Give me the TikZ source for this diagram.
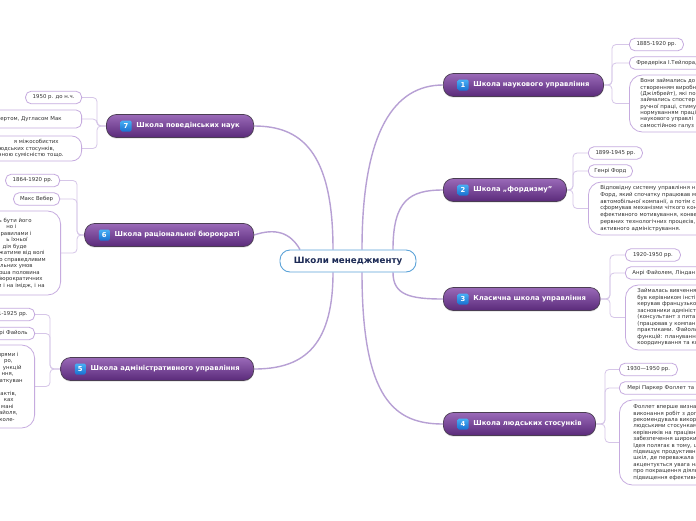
\documentclass[tikz,border=0pt]{standalone}
\usepackage{fontspec}
\setmainfont{DejaVu Sans}
\usetikzlibrary{shadows}
\definecolor{maincon}{HTML}{B7A0D4}
\definecolor{subcon}{HTML}{D6C6E8}
\definecolor{boxline}{HTML}{C6ABDF}
\definecolor{bartop}{HTML}{9A6AB8}
\definecolor{barbot}{HTML}{5A2A7A}
\definecolor{barline}{HTML}{4A3D52}
\definecolor{badgetop}{HTML}{48B0F5}
\definecolor{badgebot}{HTML}{1A70D0}
\definecolor{cenline}{HTML}{5CA3D8}
\definecolor{centext}{HTML}{1C2A55}
\definecolor{txt}{HTML}{333333}
\newcommand\padr[1]{\makebox[#1pt]{}}
\pgfdeclarelayer{bg}
\pgfsetlayers{bg,main}
\begin{document}
\begin{tikzpicture}[x=1pt,y=-1pt,
  central/.style={draw=cenline, line width=0.9pt, fill=white, rounded corners=10pt,
    minimum width=136pt, minimum height=22pt, inner sep=0pt, text=centext,
    font=\fontsize{8.7}{10}\selectfont\bfseries},
  bar/.style={draw=barline, line width=0.7pt, rounded corners=10pt, top color=bartop,
    bottom color=barbot, text=white, minimum height=23pt, inner xsep=14pt, inner ysep=0pt,
    font=\fontsize{6.8}{8}\selectfont\bfseries,
    drop shadow={shadow xshift=0pt, shadow yshift=-1.2pt, opacity=0.25}},
  badge/.style={rounded corners=1.5pt, top color=badgetop, bottom color=badgebot,
    text=white, minimum size=11pt, inner sep=0pt, font=\fontsize{6.8}{8}\selectfont\bfseries},
  small/.style={draw=boxline, line width=0.8pt, fill=white, rounded corners=5.5pt, text=txt,
    font=\fontsize{5.4}{6.45}\selectfont, inner sep=0pt, minimum height=12.5pt},
  big/.style={draw=boxline, line width=0.8pt, fill=white, rounded corners=13pt, text=txt,
    font=\fontsize{5.4}{6.5}\selectfont, inner ysep=0pt, text width=150pt},
  mcon/.style={draw=maincon, line width=1.4pt},
  scon/.style={draw=subcon, line width=0.8pt, rounded corners=4pt}]
\useasboundingbox (0,0) rectangle (696,520);
\clip (0,0) rectangle (696,520);

% central
\node[central] (cen) at (348,261) {Школи менеджменту};

% branches
\node[bar, anchor=west] (b1) at (443,85) {\hspace*{16pt}Школа наукового управління};
\node[badge] (g1) at ([xshift=20pt]b1.west) {1};
\node[bar, anchor=west] (b2) at (443,190) {\hspace*{16pt}Школа „фордизму”};
\node[badge] (g2) at ([xshift=20pt]b2.west) {2};
\node[bar, anchor=west] (b3) at (443,299) {\hspace*{16pt}Класична школа управління};
\node[badge] (g3) at ([xshift=20pt]b3.west) {3};
\node[bar, anchor=west] (b4) at (443,424) {\hspace*{16pt}Школа людських стосунків};
\node[badge] (g4) at ([xshift=20pt]b4.west) {4};
\node[bar, anchor=east] (b7) at (254,126) {\hspace*{16pt}Школа поведінських наук};
\node[badge] (g7) at ([xshift=20pt]b7.west) {7};
\node[bar, anchor=east] (b6) at (254,235) {\hspace*{16pt}Школа раціональної бюрократі};
\node[badge] (g6) at ([xshift=20pt]b6.west) {6};
\node[bar, anchor=east] (b5) at (254,369) {\hspace*{16pt}Школа адміністративного управління};
\node[badge] (g5) at ([xshift=20pt]b5.west) {5};

% branch 1 leaves
\node[small, anchor=west, minimum width=54pt] (l1a) at (629,44.5) {1885-1920 рр.};
\node[small, anchor=west, inner xsep=7pt, text width=120pt, align=left] (l1b) at (629,63) {Фредеріка І.Тейлора,};
\node[big, anchor=west, inner xsep=11pt, align=left, minimum height=57pt, font=\fontsize{5.4}{6.3}\selectfont] (l1c) at (629,103.5)
 {Вони займались до\\створенням виробн\\(Джілбрейт), які по\\займались спостер\\ручної праці, стиму\\нормуванням праці\\наукового управлі\\самостійною галуз};

% branch 2 leaves
\node[small, anchor=west, minimum width=54pt] (l2a) at (588,153) {1899-1945 рр.};
\node[small, anchor=west, minimum width=44pt] (l2b) at (588,171) {Генрі Форд};
\node[big, anchor=west, inner xsep=12pt, align=left, minimum height=53pt, font=\fontsize{5.4}{6.7}\selectfont] (l2c) at (588,208.5)
 {Відповідну систему управління н\\Форд, який спочатку працював м\\автомобільної компанії, а потім с\\сформував механізми чіткого кон\\ефективного мотивування, конве\\рервних технологічних процесів,\\активного адміністрування.};

% branch 3 leaves
\node[small, anchor=west, minimum width=55pt] (l3a) at (625,255) {1920-1950 рр.};
\node[small, anchor=west, inner xsep=7pt, text width=120pt, align=left] (l3b) at (625,273) {Анрі Файолем, Ліндан};
\node[big, anchor=west, inner xsep=12pt, align=left, minimum height=65pt] (l3c) at (625,317.5)
 {Займалась вивчення\\був керівником інсті\\керував французько\\засновники адмініст\\(консультант з пита\\(працював у компан\\практиками. Файоль\\функцій: плануванн\\координування та ко};

% branch 4 leaves
\node[small, anchor=west, minimum width=58pt] (l4a) at (619,369.5) {1930—1950 рр.};
\node[small, anchor=west, inner xsep=8pt, text width=120pt, align=left] (l4b) at (619,388) {Мері Паркер Фоллет та Е};
\node[big, anchor=west, inner xsep=14pt, align=left, minimum height=85pt, font=\fontsize{5.4}{6.4}\selectfont] (l4c) at (619,442.5)
 {Фоллет вперше визнач\\виконання робіт з доп\\рекомендувала викор\\людськими стосунками\\керівників на працівн\\забезпечення широки\\Ідея полягає в тому, щ\\підвищує продуктивні\\шкіл, де переважала т\\акцентується увага на\\про покращення діяль\\підвищення ефективн};

% branch 7 leaves
\node[small, anchor=east, minimum width=56pt] (l7a) at (82,97.5) {1950 р. до н.ч.};
\node[small, anchor=east, minimum height=18pt, inner xsep=20pt, text width=120pt, align=right] (l7b) at (82,119) {ертом, Дугласом Мак};
\node[big, anchor=east, inner xsep=18pt, align=right, minimum height=25pt, rounded corners=10pt] (l7c) at (82,148.5)
 {я міжособистих\padr{5}\\людських стосунків,\padr{9}\\чною сумісністю тощо.};

% branch 6 leaves
\node[small, anchor=east, minimum width=54pt] (l6a) at (60,180.5) {1864-1920 рр.};
\node[small, anchor=east, minimum width=46pt] (l6b) at (60,199) {Макс Вебер};
\node[big, anchor=east, inner xsep=15pt, align=right, minimum height=84pt] (l6c) at (61,253)
 {ь бути його\padr{14}\\но і\padr{29}\\правилами і\padr{14}\\ь їхньої\padr{18}\\дія буде\padr{19}\\жатиме від волі\padr{1}\\о справедливим\\льних умов\padr{13}\\рша половина\padr{6}\\бюрократичних\padr{3}\\м і на імідж, і на\padr{1}};

% branch 5 leaves
\node[small, anchor=east, inner xsep=7pt, text width=60pt, align=right] (l5a) at (35,314.5) {1841-1925 рр.};
\node[small, anchor=east, inner xsep=7pt, text width=60pt, align=right] (l5b) at (35,333.5) {Анрі Файоль};
\node[big, anchor=east, inner xsep=12pt, align=right, minimum height=83pt] (l5c) at (35,386.5)
 {прями і\padr{4}\\ро,\padr{10}\\ункцій\padr{1}\\ння,\padr{9}\\аткуван\\\mbox{}\\актів,\padr{6}\\ках\padr{9}\\мані\padr{9}\\айоля,\padr{5}\\коле-\padr{8}};

% junctions
\coordinate (j1) at (612,85);
\coordinate (j2) at (573,190);
\coordinate (j3) at (610,299);
\coordinate (j4) at (605,424);
\coordinate (j7) at (97,126);
\coordinate (j6) at (77,235);
\coordinate (j5) at (50,369);

\begin{pgfonlayer}{bg}
\fill[white] (0,0) rectangle (696,520);
% main connectors
\draw[mcon] ([xshift=14pt]cen.north) .. controls (362,130) and (395,85) .. (b1.west);
\draw[mcon] ([xshift=45pt]cen.north) .. controls (393,200) and (410,190) .. (b2.west);
\draw[mcon] ([xshift=45pt]cen.south) .. controls (393,295) and (410,299) .. (b3.west);
\draw[mcon] ([xshift=14pt]cen.south) .. controls (362,400) and (395,424) .. (b4.west);
\draw[mcon] ([xshift=-15pt]cen.north) .. controls (333,150) and (300,126) .. (b7.east);
\draw[mcon] ([xshift=-48pt]cen.north) .. controls (290,232) and (275,228) .. (b6.east);
\draw[mcon] ([xshift=-15pt]cen.south) .. controls (333,350) and (300,369) .. (b5.east);
% sub connectors
\foreach \b/\j/\l in {b1/j1/l1, b2/j2/l2, b3/j3/l3, b4/j4/l4}{
  \draw[scon] (\b.east) -- (\j) |- (\l a.west);
  \draw[scon] (\b.east) -- (\j) |- (\l b.west);
  \draw[scon] (\b.east) -- (\j) |- (\l c.west);
}
\foreach \b/\j/\l in {b7/j7/l7, b6/j6/l6, b5/j5/l5}{
  \draw[scon] (\b.west) -- (\j) |- (\l a.east);
  \draw[scon] (\b.west) -- (\j) |- (\l b.east);
  \draw[scon] (\b.west) -- (\j) |- (\l c.east);
}
\end{pgfonlayer}
\end{tikzpicture}
\end{document}
